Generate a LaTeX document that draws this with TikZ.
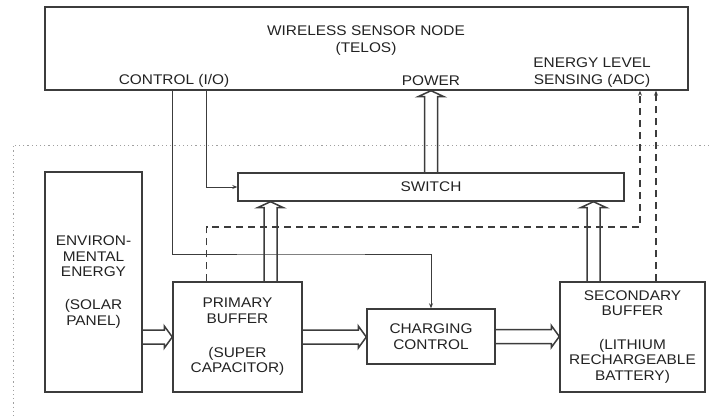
\documentclass[tikz,border=0pt]{standalone}
\usepackage{fontspec}
\setmainfont{Liberation Sans}[FakeStretch=1.1]
\usetikzlibrary{calc,arrows.meta}
\definecolor{ink}{HTML}{222222}
\definecolor{edge}{HTML}{3C3C3C}
\definecolor{dotc}{HTML}{A0A0A0}
\begin{document}
\begin{tikzpicture}[x=1pt,y=-1pt,
  box/.style={draw=edge, line width=1.4pt, inner sep=0pt, align=center, text=ink, font=\fontsize{14}{15.8}\selectfont},
  lbl/.style={inner sep=0pt, align=center, text=ink, font=\fontsize{14}{16.5}\selectfont},
  sig/.style={draw=edge, line width=0.8pt, -{Stealth[length=5pt,width=4pt]}},
  sense/.style={draw=edge, line width=1.2pt, dash pattern=on 7pt off 5pt, -{Stealth[length=5pt,width=4pt]}},
  hollow/.style={draw=edge, line width=1.5pt, miter limit=10},
  hollowup/.style={to path={let \p1=(\tikztostart), \p2=(\tikztotarget) in
     (\x1-6.5pt,\y1) -- (\x1-6.5pt,\y2-6pt) -- (\x1-13pt,\y2-6pt) -- (\x1,\y2)
     -- (\x1+13pt,\y2-6pt) -- (\x1+6.5pt,\y2-6pt) -- (\x1+6.5pt,\y1)}},
  hollowright/.style={to path={let \p1=(\tikztostart), \p2=(\tikztotarget) in
     (\x1,\y1+7pt) -- (\x2-8pt,\y1+7pt) -- (\x2-8pt,\y1+11pt) -- (\x2,\y1)
     -- (\x2-8pt,\y1-11pt) -- (\x2-8pt,\y1-7pt) -- (\x1,\y1-7pt)}}]
\useasboundingbox (0,0) rectangle (709,418);

% boundary of the energy subsystem
\draw[dotc, line width=1pt, dash pattern=on 1.2pt off 3pt] (709,145) -- (13,145) -- (13,418);

% nodes
\node[box, minimum width=643pt, minimum height=83pt] (wsn) at (366.5,48.5) {};
\node[lbl] (title) at (366,40.5) {WIRELESS SENSOR NODE\\(TELOS)};
\node[lbl] (ctl) at (174,81) {CONTROL (I/O)};
\node[lbl] (pwr) at (431,81) {POWER};
\node[lbl] (adc) at (592,72.5) {ENERGY LEVEL\\SENSING (ADC)};
\node[box, minimum width=386pt, minimum height=28pt] (sw) at (431,187) {SWITCH};
\node[box, minimum width=97pt, minimum height=220pt] (env) at (93.5,282) {ENVIRON-\\MENTAL\\ENERGY\\[17pt](SOLAR\\PANEL)};
\node[box, minimum width=129pt, minimum height=110pt] (pb) at (237.5,337) {PRIMARY\\BUFFER\\[17.5pt](SUPER\\CAPACITOR)};
\node[box, minimum width=128pt, minimum height=55pt] (cc) at (431,336.5) {CHARGING\\CONTROL};
\node[box, minimum width=145pt, minimum height=110pt] (sb) at (632.5,337) {SECONDARY\\BUFFER\\[17.5pt](LITHIUM\\RECHARGEABLE\\BATTERY)};

% helper coordinates
\coordinate (xa) at (206.5,0);
\coordinate (xb) at (640,0);
\coordinate (xc) at (656,0);
\coordinate (xd) at (270.5,0);
\coordinate (xe) at (593.5,0);
\coordinate (k1) at (300,254);
\coordinate (k3) at (400,227);

% control signals
\draw[sig] (wsn.south -| pb.west) |- (k1) -| (cc.north);
\draw[sig] (wsn.south -| xa) |- (sw.west);

% energy level sensing
\draw[sense] (pb.north -| xa) |- (k3) -| (wsn.south -| xb);
\draw[sense] (sb.north -| xc) -- (wsn.south -| xc);

% power flow
\draw[hollow, hollowup] (sw.north) to (wsn.south -| sw.north);
\draw[hollow, hollowup] (pb.north -| xd) to (sw.south -| xd);
\draw[hollow, hollowup] (sb.north -| xe) to (sw.south -| xe);
\draw[hollow, hollowright] (env.east |- pb.west) to (pb.west);
\draw[hollow, hollowright] (pb.east) to (cc.west |- pb.east);
\draw[hollow, hollowright] (cc.east) to (sb.west |- cc.east);
\end{tikzpicture}
\end{document}
